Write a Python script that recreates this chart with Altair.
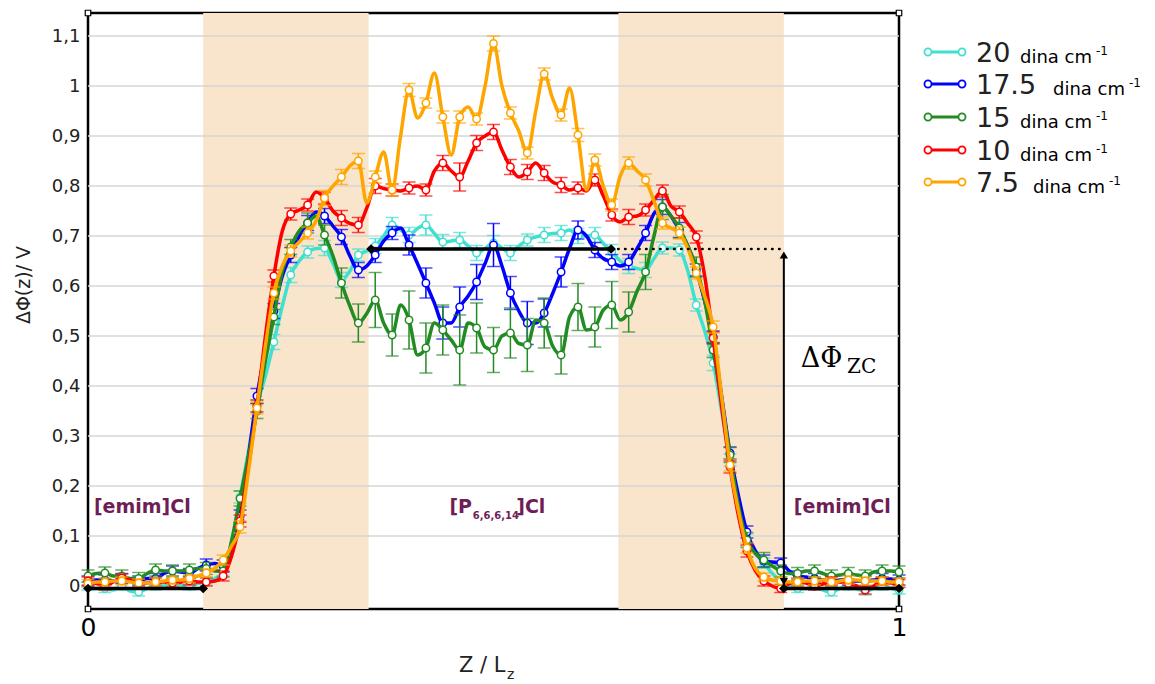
import altair as alt
import pandas as pd

# ---------------- data ----------------
SERIES = ["20", "17.5", "15", "10", "7.5"]
COLORS = ["#40e0d0", "#0000ff", "#228b22", "#ff0000", "#ffa500"]
X_TICKS = [0, 1]
Y_TICKS = [0, 0.1, 0.2, 0.3, 0.4, 0.5, 0.6, 0.7, 0.8, 0.9, 1.0, 1.1]

# marker values (49 points, Z/Lz = i/48) and in-between line values (48 points)
CYAN_M = [0.0, -0.005, 0.0, -0.012, 0.0, 0.005, 0.0, 0.01, 0.03, 0.178, 0.36, 0.488, 0.622, 0.668, 0.676, 0.612,
          0.662, 0.68, 0.722, 0.702, 0.722, 0.688, 0.692, 0.666, 0.686, 0.666, 0.692, 0.702, 0.706, 0.70, 0.702,
          0.668, 0.64, 0.632, 0.676, 0.672, 0.562, 0.446, 0.252, 0.092, 0.046, 0.01, -0.005, 0.0, -0.012, 0.0,
          -0.01, 0.0, -0.008]
CYAN_H = [-0.005, -0.008, -0.01, -0.005, 0.0, 0.002, 0.005, 0.015, 0.09, 0.27, 0.42, 0.56, 0.65, 0.675, 0.645,
          0.63, 0.67, 0.70, 0.712, 0.715, 0.705, 0.69, 0.68, 0.675, 0.676, 0.68, 0.698, 0.705, 0.712, 0.70, 0.685,
          0.65, 0.635, 0.655, 0.676, 0.63, 0.51, 0.35, 0.16, 0.065, 0.025, 0.0, -0.005, -0.008, -0.005, -0.006,
          -0.005, -0.004]
CYAN_E = [0.008, 0.008, 0.008, 0.008, 0.008, 0.008, 0.008, 0.008, 0.01, 0.012, 0.012, 0.015, 0.015, 0.012, 0.015,
          0.015, 0.012, 0.015, 0.015, 0.015, 0.02, 0.015, 0.015, 0.015, 0.015, 0.015, 0.012, 0.015, 0.015, 0.015,
          0.015, 0.015, 0.015, 0.015, 0.012, 0.012, 0.012, 0.015, 0.012, 0.012, 0.01, 0.008, 0.008, 0.008, 0.008,
          0.008, 0.008, 0.008, 0.008]

BLUE_M = [0.01, 0.012, 0.015, 0.01, 0.015, 0.03, 0.025, 0.042, 0.04, 0.14, 0.38, 0.55, 0.662, 0.726, 0.74, 0.698,
          0.632, 0.662, 0.706, 0.682, 0.606, 0.526, 0.558, 0.608, 0.682, 0.586, 0.526, 0.546, 0.628, 0.712, 0.672,
          0.648, 0.648, 0.706, 0.758, 0.712, 0.632, 0.498, 0.266, 0.108, 0.05, 0.046, 0.02, 0.015, 0.01, 0.012,
          0.01, 0.015, 0.012]
BLUE_H = [0.012, 0.01, 0.012, 0.015, 0.025, 0.028, 0.035, 0.045, 0.07, 0.26, 0.47, 0.62, 0.70, 0.748, 0.72, 0.66,
          0.64, 0.69, 0.716, 0.645, 0.566, 0.526, 0.58, 0.645, 0.64, 0.55, 0.526, 0.585, 0.675, 0.70, 0.655, 0.64,
          0.675, 0.745, 0.74, 0.68, 0.57, 0.38, 0.18, 0.07, 0.048, 0.03, 0.018, 0.012, 0.012, 0.01, 0.012, 0.014]
BLUE_E = [0.01, 0.01, 0.01, 0.01, 0.01, 0.01, 0.01, 0.012, 0.012, 0.012, 0.015, 0.015, 0.015, 0.015, 0.015, 0.015,
          0.015, 0.015, 0.013, 0.02, 0.03, 0.032, 0.04, 0.035, 0.043, 0.033, 0.043, 0.028, 0.03, 0.018, 0.015,
          0.015, 0.015, 0.015, 0.015, 0.015, 0.012, 0.012, 0.012, 0.012, 0.012, 0.01, 0.01, 0.01, 0.01, 0.01, 0.01,
          0.01, 0.01]

GREEN_M = [0.02, 0.026, 0.02, 0.015, 0.032, 0.03, 0.032, 0.035, 0.03, 0.175, 0.35, 0.538, 0.678, 0.726, 0.702,
           0.606, 0.526, 0.572, 0.502, 0.532, 0.476, 0.512, 0.472, 0.516, 0.472, 0.506, 0.482, 0.526, 0.462, 0.558,
           0.518, 0.562, 0.548, 0.628, 0.758, 0.716, 0.638, 0.472, 0.262, 0.092, 0.052, 0.03, 0.025, 0.03, 0.02,
           0.025, 0.02, 0.03, 0.028]
GREEN_H = [0.025, 0.02, 0.015, 0.025, 0.03, 0.03, 0.035, 0.03, 0.09, 0.26, 0.45, 0.63, 0.71, 0.74, 0.66, 0.56,
           0.545, 0.526, 0.562, 0.462, 0.526, 0.492, 0.526, 0.478, 0.50, 0.485, 0.532, 0.48, 0.538, 0.512, 0.552,
           0.532, 0.59, 0.70, 0.74, 0.68, 0.57, 0.37, 0.16, 0.065, 0.04, 0.025, 0.03, 0.025, 0.022, 0.022, 0.028,
           0.03]
GREEN_E = [0.012, 0.012, 0.012, 0.012, 0.012, 0.012, 0.012, 0.012, 0.012, 0.015, 0.015, 0.015, 0.015, 0.02, 0.02,
           0.03, 0.038, 0.055, 0.042, 0.058, 0.05, 0.05, 0.07, 0.05, 0.045, 0.05, 0.053, 0.05, 0.038, 0.047, 0.04,
           0.047, 0.04, 0.035, 0.025, 0.02, 0.02, 0.015, 0.015, 0.015, 0.015, 0.012, 0.012, 0.012, 0.012, 0.012,
           0.012, 0.012, 0.012]

RED_M = [0.01, 0.0, 0.016, 0.005, 0.008, 0.006, 0.01, 0.008, 0.02, 0.13, 0.36, 0.62, 0.744, 0.762, 0.776, 0.736,
         0.722, 0.80, 0.792, 0.796, 0.792, 0.846, 0.818, 0.886, 0.908, 0.838, 0.828, 0.826, 0.802, 0.796, 0.812,
         0.742, 0.738, 0.752, 0.79, 0.748, 0.698, 0.496, 0.238, 0.07, 0.01, -0.005, 0.008, 0.0, 0.01, 0.005,
         -0.008, 0.01, 0.005]
RED_H = [0.005, 0.008, 0.012, 0.006, 0.008, 0.008, 0.008, 0.01, 0.06, 0.24, 0.50, 0.71, 0.752, 0.788, 0.75, 0.725,
         0.756, 0.795, 0.79, 0.80, 0.83, 0.83, 0.85, 0.90, 0.872, 0.818, 0.846, 0.808, 0.792, 0.79, 0.78, 0.728,
         0.74, 0.772, 0.76, 0.725, 0.62, 0.36, 0.14, 0.03, 0.0, 0.005, 0.006, 0.004, 0.008, 0.0, 0.0, 0.006]
RED_E = [0.008, 0.008, 0.008, 0.008, 0.008, 0.008, 0.008, 0.008, 0.01, 0.012, 0.012, 0.012, 0.012, 0.012, 0.012,
         0.015, 0.015, 0.015, 0.012, 0.012, 0.012, 0.015, 0.028, 0.015, 0.015, 0.015, 0.015, 0.015, 0.015, 0.012,
         0.012, 0.012, 0.015, 0.012, 0.012, 0.012, 0.012, 0.012, 0.012, 0.012, 0.01, 0.008, 0.008, 0.008, 0.008,
         0.008, 0.008, 0.008, 0.008]

ORANGE_M = [0.005, 0.008, 0.01, 0.006, 0.008, 0.012, 0.015, 0.026, 0.052, 0.118, 0.356, 0.586, 0.67, 0.706, 0.776,
            0.818, 0.85, 0.818, 0.792, 0.992, 0.966, 0.938, 0.938, 0.934, 1.085, 0.946, 0.866, 1.024, 0.942, 0.902,
            0.852, 0.762, 0.846, 0.812, 0.726, 0.706, 0.626, 0.518, 0.242, 0.076, 0.018, 0.01, 0.008, 0.01, 0.008,
            0.012, 0.01, 0.01, 0.008]
ORANGE_H = [0.008, 0.01, 0.008, 0.006, 0.01, 0.012, 0.02, 0.035, 0.08, 0.23, 0.48, 0.64, 0.688, 0.73, 0.80, 0.84,
            0.766, 0.868, 0.90, 0.936, 1.026, 0.862, 0.958, 1.0, 1.0, 0.91, 0.95, 0.975, 0.996, 0.792, 0.80, 0.82,
            0.83, 0.77, 0.716, 0.675, 0.58, 0.38, 0.15, 0.035, 0.012, 0.008, 0.01, 0.012, 0.01, 0.012, 0.01, 0.008]
ORANGE_E = [0.008, 0.008, 0.008, 0.008, 0.008, 0.008, 0.008, 0.008, 0.01, 0.012, 0.012, 0.012, 0.012, 0.012, 0.015,
            0.015, 0.015, 0.012, 0.012, 0.013, 0.01, 0.012, 0.012, 0.012, 0.015, 0.012, 0.012, 0.012, 0.012, 0.013,
            0.012, 0.012, 0.012, 0.012, 0.012, 0.012, 0.012, 0.012, 0.012, 0.01, 0.008, 0.008, 0.008, 0.008, 0.008,
            0.008, 0.008, 0.008, 0.008]

# annotation geometry (data units)
BAND_X1 = [0.142, 0.654]
BAND_X2 = [0.346, 0.858]
SEG_X1 = [0.0, 0.349, 0.858]
SEG_X2 = [0.142, 0.645, 1.0]
SEG_Y = [-0.005, 0.674, -0.005]
DOT_X1, DOT_X2, DOT_Y = 0.645, 0.858, 0.674
ARROW_X = 0.858

MARKS = [CYAN_M, BLUE_M, GREEN_M, RED_M, ORANGE_M]
HALVES = [CYAN_H, BLUE_H, GREEN_H, RED_H, ORANGE_H]
ERRS = [CYAN_E, BLUE_E, GREEN_E, RED_E, ORANGE_E]
for a in MARKS + ERRS:
    assert len(a) == 49, len(a)
for a in HALVES:
    assert len(a) == 48, len(a)

# ---------------- styling / layout ----------------
W, H = 811, 596
FONT = "DejaVu Sans"
PURPLE = "#6e1e55"
YMIN, YMAX = -0.046, 1.146

XSC = alt.Scale(domain=[0, 1], nice=False, zero=False)
YSC = alt.Scale(domain=[YMIN, YMAX], nice=False, zero=False)
XAX = alt.Axis(values=X_TICKS, title=None, domain=False, ticks=False, grid=False, labelFontSize=25,
               labelFont=FONT, labelColor="black", labelPadding=6, format="d", labelFlush=False)
YAX = alt.Axis(values=Y_TICKS, title=None, domain=False, ticks=False, grid=False, labelFontSize=18,
               labelFont=FONT, labelColor="#222222", labelPadding=8,
               labelExpr="replace(format(datum.value, '.2~f'), '.', ',')")


def X(f):
    return alt.X(f, type="quantitative", scale=XSC, axis=XAX)


def Y(f):
    return alt.Y(f, type="quantitative", scale=YSC, axis=YAX)


ONE = pd.DataFrame({"d": [0]})
layers = []

# shaded interface bands
bands = pd.DataFrame({"x1": BAND_X1, "x2": BAND_X2})
layers.append(alt.Chart(bands).mark_rect(color="#f9e4cc").encode(
    x=X("x1"), x2="x2", y=alt.value(0), y2=alt.value(H)))

# gridlines
grid = pd.DataFrame({"v": Y_TICKS[1:]})
layers.append(alt.Chart(grid).mark_rule(color="#d6d6d6", strokeWidth=1.5).encode(y=Y("v")))

# series
for name, col, m, h, e in zip(SERIES, COLORS, MARKS, HALVES, ERRS):
    vals = []
    for i in range(48):
        vals += [m[i], h[i]]
    vals.append(m[48])
    line_df = pd.DataFrame({"k": range(97), "x": [k / 96 for k in range(97)], "v": vals})
    mk_df = pd.DataFrame({"x": [i / 48 for i in range(49)], "v": m,
                          "lo": [a - b for a, b in zip(m, e)], "hi": [a + b for a, b in zip(m, e)]})
    layers.append(alt.Chart(mk_df).mark_rule(color=col, strokeWidth=1.5).encode(
        x=X("x"), y=Y("lo"), y2="hi"))
    layers.append(alt.Chart(mk_df).mark_tick(color=col, orient="horizontal", size=13, thickness=1.5).encode(
        x=X("x"), y=Y("lo")))
    layers.append(alt.Chart(mk_df).mark_tick(color=col, orient="horizontal", size=13, thickness=1.5).encode(
        x=X("x"), y=Y("hi")))
    layers.append(alt.Chart(line_df).mark_line(color=col, strokeWidth=3.5, interpolate="monotone").encode(
        x=X("x"), y=Y("v"), order="k:Q"))
    layers.append(alt.Chart(mk_df).mark_point(shape="circle", filled=True, fill="white", stroke=col,
                                              strokeWidth=1.5, size=55, opacity=1, fillOpacity=1).encode(
        x=X("x"), y=Y("v")))

# black reference segments
segs = pd.DataFrame({"x1": SEG_X1, "x2": SEG_X2, "y": SEG_Y})
layers.append(alt.Chart(segs).mark_rule(color="black", strokeWidth=3.5).encode(x=X("x1"), x2="x2", y=Y("y")))
dots = pd.DataFrame({"x1": [DOT_X1], "x2": [DOT_X2], "y": [DOT_Y]})
layers.append(alt.Chart(dots).mark_rule(color="black", strokeWidth=2.5, strokeDash=[0.5, 6.5],
                                        strokeCap="round").encode(x=X("x1"), x2="x2", y=Y("y")))
arrow = pd.DataFrame({"x": [ARROW_X], "y1": [SEG_Y[2]], "y2": [DOT_Y - 0.01]})
layers.append(alt.Chart(arrow).mark_rule(color="black", strokeWidth=2).encode(x=X("x"), y=Y("y1"), y2="y2"))
heads = pd.DataFrame({"x": [ARROW_X, ARROW_X], "y": [DOT_Y - 0.012, SEG_Y[2] + 0.014],
                      "s": ["triangle-up", "triangle-down"]})
layers.append(alt.Chart(heads).mark_point(filled=True, color="black", size=70, opacity=1).encode(
    x=X("x"), y=Y("y"), shape=alt.Shape("s:N", scale=None)))
diam = pd.DataFrame({"x": SEG_X1 + SEG_X2, "y": SEG_Y + SEG_Y})
layers.append(alt.Chart(diam).mark_point(shape="diamond", filled=True, color="black", size=95, opacity=1).encode(
    x=X("x"), y=Y("y")))

# corner handles of the frame
corners = pd.DataFrame({"x": [0, 1, 0, 1], "y": [YMIN, YMIN, YMAX, YMAX]})
layers.append(alt.Chart(corners).mark_point(shape="square", filled=True, fill="white", stroke="black",
                                            strokeWidth=1.2, size=30, opacity=1).encode(x=X("x"), y=Y("y")))

# region labels
emim = pd.DataFrame({"x": [0.067, 0.93], "y": [0.146, 0.146], "t": ["[emim]Cl", "[emim]Cl"]})
layers.append(alt.Chart(emim).mark_text(font=FONT, fontSize=19, fontWeight="bold", color=PURPLE,
                                        baseline="alphabetic").encode(x=X("x"), y=Y("y"), text="t:N"))
pA = pd.DataFrame({"x": [0.4735], "y": [0.146], "t": ["[P"]})
layers.append(alt.Chart(pA).mark_text(font=FONT, fontSize=19, fontWeight="bold", color=PURPLE, align="right",
                                      baseline="alphabetic").encode(x=X("x"), y=Y("y"), text="t:N"))
pB = pd.DataFrame({"x": [0.4745], "y": [0.134], "t": ["6,6,6,14"]})
layers.append(alt.Chart(pB).mark_text(font=FONT, fontSize=10, fontWeight="bold", color=PURPLE, align="left",
                                      baseline="alphabetic").encode(x=X("x"), y=Y("y"), text="t:N"))
pC = pd.DataFrame({"x": [0.528], "y": [0.146], "t": ["]Cl"]})
layers.append(alt.Chart(pC).mark_text(font=FONT, fontSize=19, fontWeight="bold", color=PURPLE, align="left",
                                      baseline="alphabetic").encode(x=X("x"), y=Y("y"), text="t:N"))

# Delta Phi_ZC label
dz1 = pd.DataFrame({"x": [0.879], "y": [0.438], "t": ["ΔΦ"]})
layers.append(alt.Chart(dz1).mark_text(font="DejaVu Serif", fontSize=27, color="black", align="left",
                                       baseline="alphabetic").encode(x=X("x"), y=Y("y"), text="t:N"))
dz2 = pd.DataFrame({"x": [0.936], "y": [0.426], "t": ["ZC"]})
layers.append(alt.Chart(dz2).mark_text(font="DejaVu Serif", fontSize=20, color="black", align="left",
                                       baseline="alphabetic").encode(x=X("x"), y=Y("y"), text="t:N"))

# axis titles
layers.append(alt.Chart(ONE).mark_text(text="ΔΦ(z)/ V", font=FONT, fontSize=19, color="#222222", angle=270,
                                       align="center", baseline="middle").encode(
    x=alt.value(-64), y=alt.value(272)))
layers.append(alt.Chart(ONE).mark_text(text="Z / L", font=FONT, fontSize=21, color="#222222", align="left",
                                       baseline="alphabetic").encode(x=alt.value(371), y=alt.value(659)))
layers.append(alt.Chart(ONE).mark_text(text="z", font=FONT, fontSize=14, color="#222222", align="left",
                                       baseline="alphabetic").encode(x=alt.value(419), y=alt.value(666)))

# custom legend
LEG_Y = [39, 71, 104, 137, 169]
UNIT_X = [932, 965, 932, 932, 945]
for name, col, yc, ux in zip(SERIES, COLORS, LEG_Y, UNIT_X):
    layers.append(alt.Chart(ONE).mark_rule(color=col, strokeWidth=3).encode(
        x=alt.value(840), x2=alt.value(874), y=alt.value(yc)))
    for cx in (840, 874):
        layers.append(alt.Chart(ONE).mark_point(shape="circle", filled=True, fill="white", stroke=col,
                                                strokeWidth=1.8, size=50, opacity=1).encode(
            x=alt.value(cx), y=alt.value(yc)))
    layers.append(alt.Chart(ONE).mark_text(text=name, font=FONT, fontSize=27, color="#222222", align="left",
                                           baseline="alphabetic").encode(x=alt.value(888), y=alt.value(yc + 10)))
    layers.append(alt.Chart(ONE).mark_text(text="dina cm", font=FONT, fontSize=18, color="black", align="left",
                                           baseline="alphabetic").encode(x=alt.value(ux), y=alt.value(yc + 11)))
    layers.append(alt.Chart(ONE).mark_text(text="-1", font=FONT, fontSize=12, color="black", align="left",
                                           baseline="alphabetic").encode(x=alt.value(ux + 76), y=alt.value(yc + 3)))

chart = alt.layer(*layers).properties(
    width=W, height=H,
    padding={"left": 80, "top": 5, "right": 247, "bottom": 72},
    autosize=alt.AutoSizeParams(type="none"),
    background="white",
).configure_view(stroke="black", strokeWidth=2.5)

chart.save("out.html", embed_options={"renderer": "svg", "actions": False})
